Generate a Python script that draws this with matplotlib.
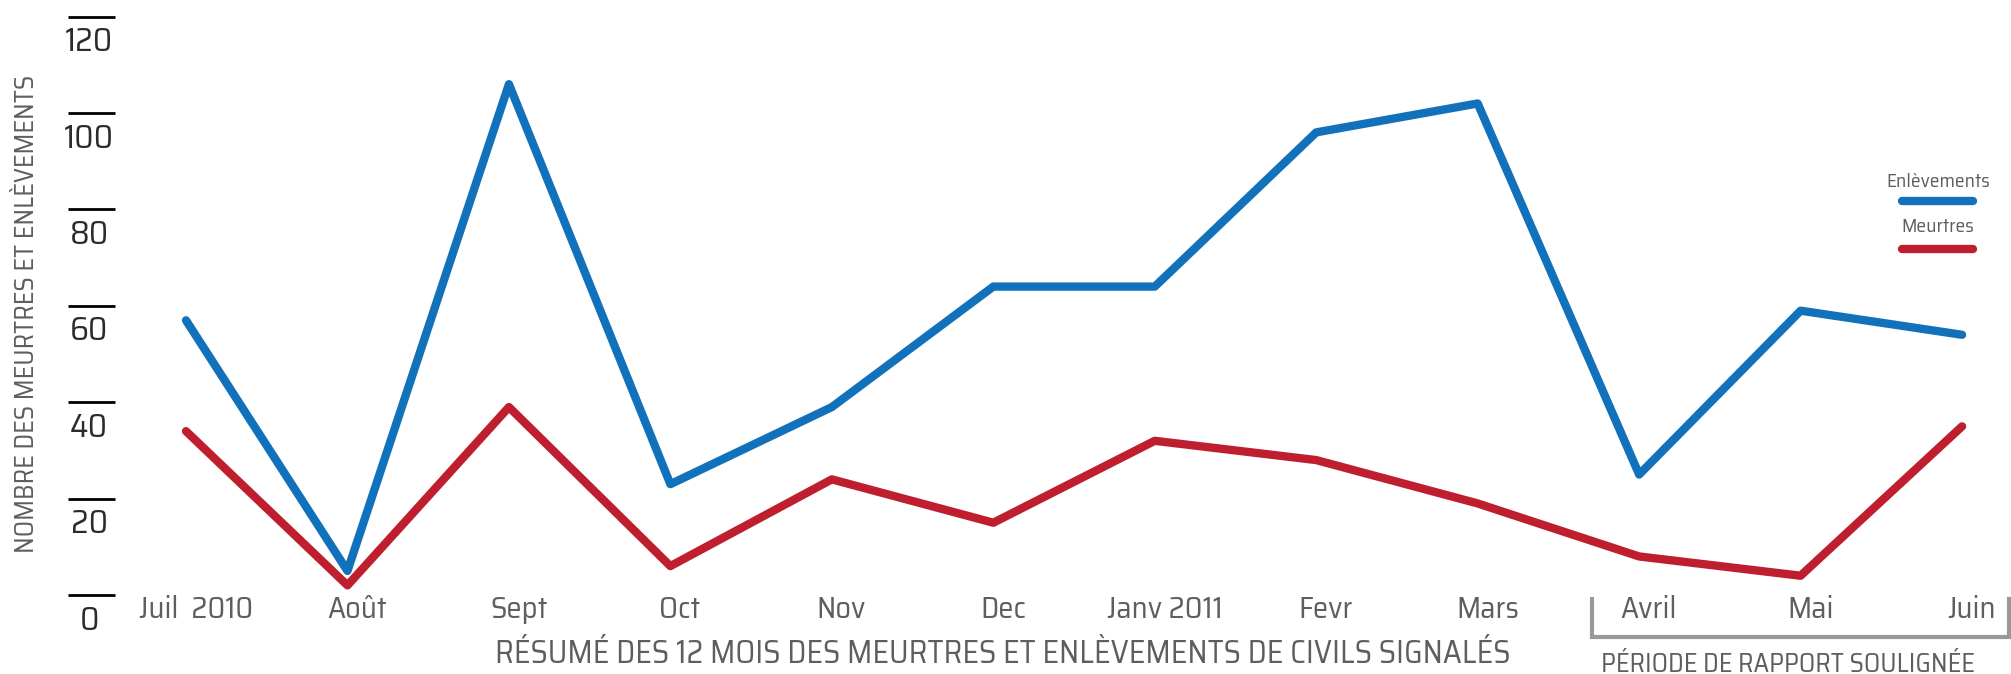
import matplotlib
matplotlib.use('Agg')
import matplotlib.pyplot as plt

months = ['Juil  2010', 'Août', 'Sept', 'Oct', 'Nov', 'Dec', 'Janv 2011',
          'Fevr', 'Mars', 'Avril', 'Mai', 'Juin']
enlevements = [57, 5, 106, 23, 39, 64, 64, 96, 102, 25, 59, 54]
meurtres = [34, 2, 39, 6, 24, 15, 32, 28, 19, 8, 4, 35]
y_ticks = [0, 20, 40, 60, 80, 100, 120]

BLUE = '#1172BB'
RED = '#BE1E2D'
GREY = '#5e5e5e'
NARROW = ['Saira SemiCondensed', 'DejaVu Sans']

plt.rcParams['font.family'] = NARROW

fig = plt.figure(figsize=(20.11, 6.74), dpi=100)
ax = fig.add_axes([0, 0, 1, 1])
ax.set_xlim(-1.152, 11.303)
ax.set_ylim(-16.39, 123.47)
ax.axis('off')

x = list(range(len(months)))
ax.plot(x, enlevements, color=BLUE, lw=6, solid_capstyle='round', solid_joinstyle='round')
ax.plot(x, meurtres, color=RED, lw=6, solid_capstyle='round', solid_joinstyle='round')

# y ticks: short bars with the number just below
ax.hlines(y_ticks, -0.73, -0.44, color='black', lw=2)
for v in y_ticks:
    ax.text(-0.6, v - 5.3, str(v), ha='center', va='center', fontsize=24,
            color='#2b2b2b')

ax.text(-0.99, 58.3, 'NOMBRE DES MEURTRES ET ENLÈVEMENTS', rotation=90,
        ha='center', va='center', fontsize=19, color=GREY)

for i, m in enumerate(months):
    ax.text(i + 0.06, -3.0, m, ha='center', va='center', fontsize=22, color=GREY)

ax.text(5.06, -12.2, 'RÉSUMÉ DES 12 MOIS DES MEURTRES ET ENLÈVEMENTS DE CIVILS SIGNALÉS',
        ha='center', va='center', fontsize=23, color=GREY)

# bracket for the reporting period
ax.plot([8.71, 8.71, 11.29, 11.29], [-0.9, -8.7, -8.7, -0.9], color='#999999', lw=3,
        clip_on=False, solid_joinstyle='miter')
ax.text(9.92, -14.5, 'PÉRIODE DE RAPPORT SOULIGNÉE', ha='center', va='center',
        fontsize=19, color=GREY)

# legend
ax.text(10.85, 85.7, 'Enlèvements', ha='center', va='center', fontsize=14, color=GREY)
ax.plot([10.63, 11.07], [81.7, 81.7], color=BLUE, lw=6, solid_capstyle='round')
ax.text(10.85, 76.4, 'Meurtres', ha='center', va='center', fontsize=14, color=GREY)
ax.plot([10.63, 11.07], [71.7, 71.7], color=RED, lw=6, solid_capstyle='round')

fig.savefig('out.png', dpi=100)
